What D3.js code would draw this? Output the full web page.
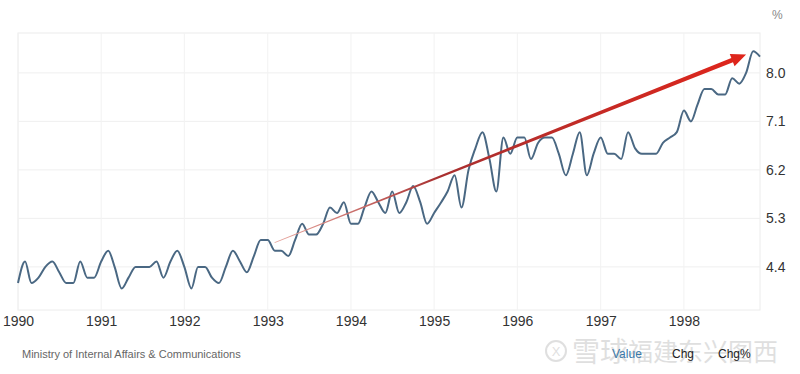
<!DOCTYPE html>
<html>
<head>
<meta charset="utf-8">
<script src="https://cdn.jsdelivr.net/npm/d3@7"></script>
<style>
  body { margin: 0; background: #fff; }
  svg { display: block; font-family: "Liberation Sans", Arial, sans-serif; }
</style>
</head>
<body>
<svg id="chart" width="800" height="374"></svg>
<script>
// monthly values, Jan 1990 .. Dec 1998
var values = [
  4.1, 4.5, 4.1, 4.2, 4.4, 4.5, 4.3, 4.1, 4.1, 4.5, 4.2, 4.2,
  4.5, 4.7, 4.4, 4.0, 4.2, 4.4, 4.4, 4.4, 4.5, 4.2, 4.5, 4.7,
  4.4, 4.0, 4.4, 4.4, 4.2, 4.1, 4.4, 4.7, 4.5, 4.3, 4.6, 4.9,
  4.9, 4.7, 4.7, 4.6, 4.9, 5.2, 5.0, 5.0, 5.2, 5.5, 5.4, 5.6,
  5.2, 5.2, 5.5, 5.8, 5.6, 5.4, 5.8, 5.4, 5.6, 5.9, 5.6, 5.2,
  5.4, 5.6, 5.8, 6.1, 5.5, 6.2, 6.6, 6.9, 6.4, 5.8, 6.8, 6.5,
  6.8, 6.8, 6.4, 6.7, 6.8, 6.8, 6.5, 6.1, 6.5, 6.9, 6.1, 6.5,
  6.8, 6.5, 6.5, 6.4, 6.9, 6.6, 6.5, 6.5, 6.5, 6.7, 6.8, 6.9,
  7.3, 7.1, 7.4, 7.7, 7.7, 7.6, 7.6, 7.9, 7.8, 8.0, 8.4, 8.3
];
var startMonth = new Date(1990, 0, 1);
var yearTicks = [1990, 1991, 1992, 1993, 1994, 1995, 1996, 1997, 1998];
var valueTicks = [4.4, 5.3, 6.2, 7.1, 8.0];
var arrowFrom = [new Date(1993, 0, 31), 4.85];
var arrowTo = [new Date(1998, 9, 1), 8.34];
var sourceText = "Ministry of Internal Affairs & Communications";
var legendItems = ["Value", "Chg", "Chg%"];

(function() {
  var data = values.map(function(v, i) {
    return { date: d3.timeMonth.offset(startMonth, i), value: v };
  });

  var svg = d3.select("#chart");
  var mLeft = 18, mRight = 760, mTop = 33, mBottom = 310;

  var x = d3.scaleTime()
    .domain([startMonth, data[data.length - 1].date])
    .range([mLeft, mRight]);
  var y = d3.scaleLinear()
    .domain([3.6, 8.74])
    .range([mBottom, mTop]);

  // frame + grid
  svg.append("rect")
    .attr("x", mLeft).attr("y", mTop)
    .attr("width", mRight - mLeft).attr("height", mBottom - mTop)
    .attr("fill", "none").attr("stroke", "#ececec");

  svg.append("g").selectAll("line")
    .data(valueTicks).enter().append("line")
    .attr("x1", mLeft).attr("x2", mRight)
    .attr("y1", function(d) { return y(d); })
    .attr("y2", function(d) { return y(d); })
    .attr("stroke", "#efefef");

  svg.append("g").selectAll("line")
    .data(yearTicks).enter().append("line")
    .attr("x1", function(d) { return x(new Date(d, 0, 1)); })
    .attr("x2", function(d) { return x(new Date(d, 0, 1)); })
    .attr("y1", mTop).attr("y2", mBottom)
    .attr("stroke", "#f2f2f2");

  // axes
  var xAxis = d3.axisBottom(x)
    .tickValues(yearTicks.map(function(d) { return new Date(d, 0, 1); }))
    .tickFormat(d3.timeFormat("%Y"))
    .tickSize(0).tickPadding(6);
  var gx = svg.append("g").attr("transform", "translate(0," + mBottom + ")").call(xAxis);
  gx.select(".domain").remove();
  gx.selectAll("text").attr("font-size", 14).attr("fill", "#333")
    .attr("font-family", "Liberation Sans, Arial, sans-serif");

  var yAxis = d3.axisRight(y)
    .tickValues(valueTicks)
    .tickFormat(d3.format(".1f"))
    .tickSize(0).tickPadding(6);
  var gy = svg.append("g").attr("transform", "translate(" + mRight + ",0)").call(yAxis);
  gy.select(".domain").remove();
  gy.selectAll("text").attr("font-size", 14).attr("fill", "#333")
    .attr("font-family", "Liberation Sans, Arial, sans-serif");

  svg.append("text").attr("x", 772).attr("y", 19)
    .attr("font-size", 12).attr("fill", "#888").text("%");

  // series line
  var line = d3.line()
    .x(function(d) { return x(d.date); })
    .y(function(d) { return y(d.value); })
    .curve(d3.curveMonotoneX);

  svg.append("path")
    .datum(data)
    .attr("fill", "none")
    .attr("stroke", "#4a6883")
    .attr("stroke-width", 2)
    .attr("d", line);

  // red trend arrow, tapered
  var p0 = [x(arrowFrom[0]), y(arrowFrom[1])];
  var p1 = [x(arrowTo[0]), y(arrowTo[1])];
  var dx = p1[0] - p0[0], dy = p1[1] - p0[1];
  var len = Math.sqrt(dx * dx + dy * dy);
  var ux = dx / len, uy = dy / len, nx = -uy, ny = ux;
  var headLen = 15, headW = 6.5;
  var base = [p1[0] - ux * headLen, p1[1] - uy * headLen];
  var w0 = 0.4, w1 = 2.2;

  var grad = svg.append("defs").append("linearGradient")
    .attr("id", "arrowGrad")
    .attr("gradientUnits", "userSpaceOnUse")
    .attr("x1", p0[0]).attr("y1", p0[1])
    .attr("x2", p1[0]).attr("y2", p1[1]);
  grad.append("stop").attr("offset", 0).attr("stop-color", "#e8a8a0");
  grad.append("stop").attr("offset", 0.35).attr("stop-color", "#a83030");
  grad.append("stop").attr("offset", 1).attr("stop-color", "#e0251b");

  var shaft = [
    [p0[0] + nx * w0, p0[1] + ny * w0],
    [base[0] + nx * w1, base[1] + ny * w1],
    [base[0] + nx * headW, base[1] + ny * headW],
    p1,
    [base[0] - nx * headW, base[1] - ny * headW],
    [base[0] - nx * w1, base[1] - ny * w1],
    [p0[0] - nx * w0, p0[1] - ny * w0]
  ];
  svg.append("path")
    .attr("d", "M" + shaft.join("L") + "Z")
    .attr("fill", "url(#arrowGrad)");

  // footer
  svg.append("text").attr("x", 22).attr("y", 358)
    .attr("font-size", 11).attr("fill", "#666").text(sourceText);

  // watermark
  var wm = svg.append("g").attr("opacity", 0.3);
  wm.append("circle").attr("cx", 556).attr("cy", 351).attr("r", 10)
    .attr("fill", "none").attr("stroke", "#999").attr("stroke-width", 2);
  wm.append("text").attr("x", 556).attr("y", 356).attr("text-anchor", "middle")
    .attr("font-size", 13).attr("fill", "#999").text("X");
  wm.append("text").attr("x", 572).attr("y", 362)
    .attr("font-family", "Noto Sans CJK SC").attr("font-size", 28)
    .attr("fill", "#999").text("雪球");
  wm.append("text").attr("x", 628).attr("y", 361)
    .attr("font-family", "Noto Sans CJK SC").attr("font-size", 25)
    .attr("fill", "#999").text("福建东兴图西");

  var legendX = [612, 672, 718];
  svg.append("g").selectAll("text")
    .data(legendItems).enter().append("text")
    .attr("x", function(d, i) { return legendX[i]; })
    .attr("y", 358)
    .attr("font-size", 12)
    .attr("fill", function(d, i) { return i === 0 ? "#3a78a8" : "#222"; })
    .text(function(d) { return d; });
})();
</script>
</body>
</html>
